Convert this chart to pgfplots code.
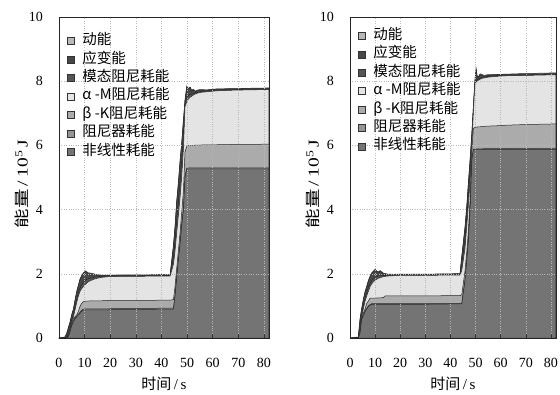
\documentclass[border=0pt]{standalone}
\usepackage{pgfplots}
\usepackage{pgfplotstable}
\pgfplotsset{compat=1.18}
\usepackage{fontspec}
\setmainfont{Liberation Serif}
\newfontfamily\cjk{Noto Sans CJK SC}

\definecolor{cKE}{HTML}{B8B8B8}
\definecolor{cSE}{HTML}{474747}
\definecolor{cMD}{HTML}{555555}
\definecolor{cAM}{HTML}{E4E4E4}
\definecolor{cBK}{HTML}{ABABAB}
\definecolor{cDM}{HTML}{959595}
\definecolor{cNL}{HTML}{747474}

% columns: cumulative tops of each energy layer (10^5 J)
\pgfplotstableread{
t     nl   dm   bk   am    md    se    ke
0     0    0    0    0     0     0     0
2.3   0    0    0    0     0     0.02  0.03
3.0   0    0    0    0     0.02  0.13  0.15
3.7   0.05 0.06 0.08 0.10  0.15  0.32  0.34
4.3   0.20 0.22 0.26 0.30  0.35  0.48  0.50
5.0   0.40 0.42 0.48 0.52  0.58  0.72  0.74
5.6   0.50 0.52 0.60 0.65  0.72  0.88  0.90
6.2   0.60 0.62 0.66 0.85  0.95  1.14  1.16
6.9   0.65 0.67 0.72 1.10  1.20  1.43  1.45
7.5   0.72 0.74 0.82 1.29  1.40  1.61  1.63
8.2   0.77 0.80 0.98 1.45  1.55  1.82  1.84
8.8   0.83 0.86 1.08 1.53  1.65  1.92  1.94
9.5   0.87 0.90 1.13 1.60  1.72  2.01  2.03
10.4  0.88 0.91 1.15 1.68  1.80  2.07  2.09
11.4  0.88 0.91 1.15 1.75  1.85  2.01  2.03
12.7  0.88 0.91 1.16 1.80  1.87  2.00  2.02
14.0  0.88 0.91 1.16 1.84  1.90  1.975 1.99
15.4  0.88 0.91 1.16 1.87  1.91  1.955 1.97
16.7  0.88 0.91 1.16 1.89  1.92  1.95  1.96
19.3  0.88 0.91 1.17 1.91  1.925 1.95  1.96
25    0.89 0.92 1.17 1.92  1.93  1.955 1.965
30    0.89 0.92 1.17 1.92  1.93  1.955 1.965
35    0.89 0.92 1.17 1.925 1.935 1.96  1.97
40    0.90 0.93 1.18 1.93  1.94  1.965 1.975
43.4  0.90 0.93 1.18 1.93  1.94  1.97  1.98
44.7  0.90 0.93 1.20 2.30  2.50  2.87  2.90
45.3  1.30 1.33 1.60 2.70  3.00  3.44  3.47
46.0  1.90 1.93 2.20 3.30  3.70  4.27  4.30
46.6  2.40 2.43 2.70 3.80  4.20  4.79  4.82
47.3  2.96 3.00 3.30 4.40  4.90  5.52  5.55
47.9  3.50 3.55 3.90 5.00  5.50  6.04  6.07
48.6  3.99 4.05 4.60 5.90  6.30  6.77  6.80
49.2  5.00 5.05 5.80 7.20  7.30  7.39  7.41
49.9  5.27 5.30 5.97 7.36  7.50  7.82  7.85
50.2  5.27 5.30 5.98 7.40  7.52  7.78  7.80
50.6  5.27 5.30 6.00 7.45  7.55  7.76  7.78
51.2  5.27 5.30 6.00 7.50  7.58  7.80  7.82
51.8  5.27 5.30 6.00 7.53  7.60  7.70  7.72
52.5  5.27 5.30 6.00 7.57  7.62  7.73  7.75
53.2  5.27 5.30 6.01 7.60  7.63  7.67  7.69
53.8  5.27 5.30 6.01 7.62  7.64  7.70  7.72
55    5.27 5.30 6.01 7.65  7.67  7.72  7.74
57.7  5.27 5.30 6.02 7.67  7.69  7.72  7.73
61.6  5.27 5.30 6.02 7.70  7.72  7.75  7.76
68.1  5.27 5.30 6.03 7.72  7.73  7.76  7.77
74.6  5.27 5.30 6.03 7.73  7.74  7.77  7.78
82    5.27 5.30 6.04 7.74  7.75  7.78  7.79
}\tabA

\pgfplotstableread{
t     nl   dm   bk   am    md    se    ke
0     0    0    0    0     0     0     0
3.3   0    0    0    0     0     0.02  0.03
4.0   0.15 0.17 0.20 0.25  0.30  0.58  0.60
4.6   0.56 0.58 0.60 0.65  0.75  0.88  0.90
5.3   0.70 0.72 0.78 0.90  1.00  1.18  1.20
6.0   0.82 0.84 0.90 1.15  1.25  1.43  1.45
6.6   0.90 0.92 1.07 1.30  1.40  1.58  1.60
7.3   0.98 1.00 1.15 1.45  1.58  1.77  1.79
8.0   1.02 1.04 1.24 1.60  1.70  1.91  1.93
8.6   1.05 1.07 1.24 1.68  1.78  2.01  2.03
9.3   1.05 1.07 1.24 1.75  1.85  2.06  2.08
10.0  1.05 1.07 1.24 1.80  1.90  2.12  2.14
11.0  1.05 1.07 1.25 1.85  1.92  2.04  2.06
12.0  1.05 1.07 1.25 1.88  1.94  2.08  2.10
13.3  1.05 1.07 1.26 1.91  1.95  2.00  2.02
13.9  1.05 1.07 1.31 1.92  1.95  1.995 2.01
15    1.05 1.07 1.31 1.93  1.95  1.98  1.99
17.3  1.05 1.07 1.31 1.94  1.955 1.975 1.985
20    1.05 1.07 1.31 1.95  1.96  1.98  1.99
30    1.05 1.07 1.31 1.95  1.96  1.98  1.99
40    1.06 1.08 1.32 1.96  1.97  1.99  2.00
43.8  1.06 1.08 1.32 1.96  1.97  2.00  2.01
44.5  1.06 1.08 1.35 2.10  2.30  2.53  2.55
45.8  1.80 1.83 2.10 2.80  3.10  3.45  3.47
46.5  2.43 2.46 2.70 3.50  3.80  4.10  4.12
47.1  3.00 3.03 3.30 4.10  4.40  4.78  4.80
47.8  3.99 4.02 4.30 4.90  5.20  5.53  5.55
48.5  5.55 5.58 5.80 6.00  6.10  6.36  6.38
49.1  5.86 5.88 6.53 7.00  7.08  7.18  7.20
49.5  5.86 5.88 6.55 7.60  7.65  7.71  7.73
49.8  5.87 5.89 6.56 7.93  7.98  8.08  8.10
50.2  5.87 5.89 6.57 7.97  8.02  8.37  8.40
50.6  5.87 5.89 6.57 8.00  8.05  8.15  8.17
51.1  5.87 5.89 6.58 8.03  8.07  8.12  8.14
51.8  5.87 5.89 6.58 8.06  8.09  8.21  8.23
52.5  5.87 5.89 6.59 8.09  8.12  8.19  8.21
53.4  5.88 5.90 6.59 8.10  8.13  8.16  8.18
54.4  5.88 5.90 6.60 8.12  8.14  8.18  8.20
58    5.88 5.90 6.61 8.15  8.17  8.20  8.21
62.4  5.88 5.90 6.63 8.17  8.18  8.21  8.22
70    5.88 5.90 6.65 8.18  8.19  8.22  8.24
82    5.88 5.90 6.67 8.20  8.21  8.24  8.26
}\tabB

\pgfplotsset{
  enaxis/.style={
    scale only axis, height=321pt,
    xmin=0, xmax=82, ymin=0, ymax=10,
    xtick={0,10,...,80}, ytick={0,2,...,10},
    grid=major,
    major grid style={dotted, black!28, line width=0.6pt},
    axis on top,
    xtick pos=left, tick align=inside, major tick length=4pt,
    ytick style={draw=none},
    xtick style={black!80, line width=0.5pt},
    axis line style={black!85, line width=0.7pt},
    /pgf/number format/assume math mode=true,
    tick label style={font=\fontsize{14}{16}\selectfont},
    xticklabel style={anchor=center, yshift=-25pt},
    yticklabel style={anchor=east, inner sep=0pt, xshift=-16pt},
    label style={font=\fontsize{15}{17}\selectfont, inner sep=0pt},
    xlabel={{\cjk 时间}\,/\,s},
    ylabel={\scalebox{1.3}[1]{{\cjk 能量}\,/\,10\textsuperscript{5}\,J}},
    xlabel style={at={([yshift=-46pt]axis description cs:0.5,0)}, anchor=center},
    ylabel style={at={([xshift=-37pt]axis description cs:0,0.48)}, anchor=center},
    legend cell align=left,
    legend style={at={(axis description cs:0,1)}, anchor=north west,
      draw=none, fill=none, inner sep=0pt, column sep=7pt, row sep=3.45pt,
      font=\cjk\fontsize{14.5}{15}\selectfont,
      nodes={inner sep=1pt, text height=10pt, text depth=3pt}},
    legend image code/.code={\draw[##1, draw=black!80, line width=0.5pt] (0pt,-3.5pt) rectangle (7pt,3.5pt);},
  },
  lay/.style={fill=#1, draw=black!85, line width=0.5pt},
}

\newcommand\layers[1]{%
  \addplot[lay=cKE] table[x=t,y=ke]{#1} \closedcycle;
  \addplot[lay=cSE] table[x=t,y=se]{#1} \closedcycle;
  \addplot[lay=cMD] table[x=t,y=md]{#1} \closedcycle;
  \addplot[lay=cAM] table[x=t,y=am]{#1} \closedcycle;
  \addplot[lay=cBK] table[x=t,y=bk]{#1} \closedcycle;
  \addplot[lay=cDM] table[x=t,y=dm]{#1} \closedcycle;
  \addplot[lay=cNL] table[x=t,y=nl]{#1} \closedcycle;
  \legend{动能,应变能,模态阻尼耗能,α -M阻尼耗能,β -K阻尼耗能,阻尼器耗能,非线性耗能}
}

\begin{document}
\begin{tikzpicture}
\useasboundingbox (0,0) rectangle (560pt,394pt);
\begin{axis}[enaxis, at={(59pt,56pt)}, anchor=south west, width=210pt,
  legend style={xshift=7.75pt, yshift=-16.4pt}]
\layers{\tabA}
\end{axis}
\begin{axis}[enaxis, at={(350pt,56pt)}, anchor=south west, width=206pt,
  legend style={xshift=7.75pt, yshift=-11.1pt}]
\layers{\tabB}
\end{axis}
\end{tikzpicture}
\end{document}
